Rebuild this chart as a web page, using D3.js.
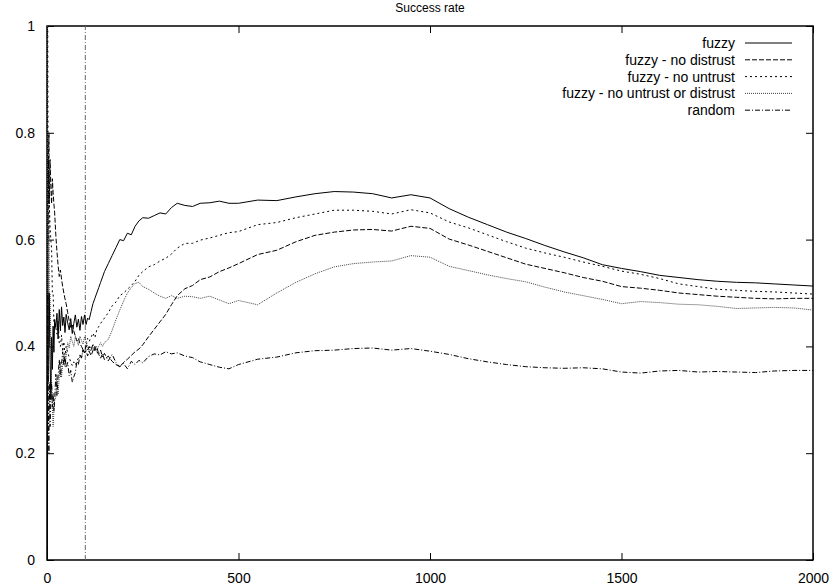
<!DOCTYPE html>
<html>
<head>
<meta charset="utf-8">
<script src="https://cdn.jsdelivr.net/npm/d3@7"></script>
<style>
  body { margin: 0; background: #fff; }
  svg { font-family: "Liberation Sans", Arial, sans-serif; }
</style>
</head>
<body>
<svg id="chart" width="835" height="586"></svg>
<script>
// time steps shared by all series
const steps = [1,2,3,4,5,6,8,10,12,14,16,18,20,23,26,29,32,35,38,41,44,47,50,54,58,62,66,70,74,78,82,86,90,94,98,
  102,106,110,115,120,125,130,135,140,145,150,160,170,180,190,200,210,220,230,240,250,265,280,295,310,325,340,360,380,400,425,450,475,500,
  550,600,650,700,750,800,850,900,950,1000,1050,1100,1150,1200,1250,1300,1350,1400,1450,1500,1550,1600,1650,1700,1750,1800,1850,1900,1950,2000];

const fuzzy = [0,0.5,0.333,0.5,0.4,0.5,0.375,0.3,0.417,0.357,0.438,0.389,0.45,0.435,0.462,0.414,0.469,0.429,0.474,0.439,0.455,0.426,0.46,0.444,0.431,0.452,0.424,0.443,0.459,0.436,0.451,0.43,0.456,0.441,0.459,
  0.441,0.453,0.45,0.465,0.48,0.49,0.5,0.51,0.52,0.53,0.54,0.555,0.57,0.585,0.6,0.598,0.612,0.609,0.625,0.635,0.641,0.64,0.645,0.65,0.648,0.66,0.668,0.664,0.662,0.668,0.669,0.672,0.668,0.668,
  0.674,0.673,0.68,0.686,0.69,0.689,0.686,0.678,0.684,0.678,0.658,0.642,0.628,0.614,0.602,0.589,0.577,0.566,0.553,0.546,0.54,0.533,0.529,0.525,0.522,0.52,0.519,0.517,0.515,0.513];

const noDistrust = [1,0.5,0.667,0.75,0.8,0.667,0.75,0.7,0.667,0.714,0.688,0.667,0.65,0.609,0.577,0.552,0.531,0.543,0.526,0.512,0.5,0.489,0.48,0.463,0.448,0.435,0.44,0.429,0.419,0.41,0.415,0.405,0.4,0.394,0.388,
  0.392,0.382,0.391,0.383,0.392,0.4,0.39,0.385,0.378,0.386,0.375,0.382,0.372,0.366,0.362,0.37,0.376,0.383,0.39,0.395,0.403,0.418,0.432,0.446,0.46,0.478,0.495,0.508,0.514,0.525,0.53,0.54,0.547,0.555,
  0.572,0.58,0.596,0.608,0.614,0.618,0.619,0.616,0.625,0.621,0.601,0.59,0.578,0.566,0.554,0.546,0.538,0.529,0.522,0.512,0.509,0.505,0.5,0.497,0.494,0.492,0.49,0.489,0.49,0.49];

const noUntrust = [1,1,0.667,0.75,0.6,0.667,0.625,0.6,0.583,0.5,0.5,0.444,0.45,0.435,0.423,0.448,0.406,0.4,0.421,0.39,0.409,0.383,0.4,0.389,0.379,0.371,0.364,0.371,0.365,0.372,0.378,0.384,0.378,0.394,0.388,
  0.402,0.415,0.409,0.417,0.425,0.416,0.431,0.437,0.443,0.448,0.453,0.463,0.476,0.483,0.495,0.5,0.507,0.514,0.522,0.533,0.54,0.549,0.553,0.56,0.565,0.573,0.584,0.593,0.593,0.599,0.603,0.608,0.613,0.615,
  0.628,0.632,0.641,0.648,0.655,0.655,0.653,0.648,0.656,0.65,0.633,0.622,0.609,0.596,0.584,0.575,0.567,0.558,0.55,0.541,0.535,0.527,0.517,0.512,0.507,0.505,0.503,0.502,0.5,0.498];

const noBoth = [1,0.5,0.333,0.5,0.6,0.5,0.5,0.4,0.333,0.286,0.25,0.278,0.3,0.304,0.346,0.31,0.344,0.371,0.342,0.366,0.386,0.362,0.38,0.407,0.397,0.419,0.409,0.4,0.419,0.41,0.402,0.419,0.411,0.404,0.418,
  0.41,0.4,0.391,0.4,0.392,0.4,0.392,0.4,0.407,0.4,0.407,0.413,0.43,0.45,0.468,0.485,0.5,0.51,0.518,0.52,0.512,0.507,0.5,0.494,0.49,0.495,0.49,0.494,0.493,0.49,0.494,0.487,0.48,0.486,
  0.478,0.5,0.52,0.536,0.549,0.555,0.558,0.56,0.57,0.567,0.55,0.542,0.534,0.527,0.521,0.511,0.502,0.495,0.488,0.48,0.484,0.482,0.479,0.478,0.475,0.471,0.472,0.473,0.472,0.468];

const random = [0,0.5,0.333,0.25,0.2,0.333,0.25,0.3,0.333,0.286,0.313,0.278,0.3,0.348,0.308,0.345,0.375,0.343,0.368,0.39,0.364,0.383,0.36,0.37,0.345,0.355,0.333,0.343,0.351,0.372,0.366,0.384,0.378,0.394,0.388,
  0.402,0.392,0.4,0.391,0.405,0.392,0.4,0.385,0.393,0.38,0.387,0.373,0.385,0.37,0.362,0.368,0.358,0.372,0.366,0.374,0.369,0.381,0.386,0.384,0.39,0.386,0.388,0.382,0.379,0.371,0.366,0.361,0.358,0.366,
  0.376,0.38,0.388,0.392,0.393,0.396,0.397,0.393,0.396,0.391,0.385,0.377,0.371,0.366,0.362,0.36,0.359,0.36,0.358,0.352,0.35,0.354,0.355,0.352,0.353,0.352,0.351,0.354,0.355,0.355];

const seriesNames = ["fuzzy", "fuzzy - no distrust", "fuzzy - no untrust", "fuzzy - no untrust or distrust", "random"];
const seriesValues = [fuzzy, noDistrust, noUntrust, noBoth, random];
const seriesDash = [null, "5,2", "2,3", "1,1", "5,2,1,2"];
const seriesColor = ["#000", "#000", "#000", "#444", "#000"];

const xTicks = [0, 500, 1000, 1500, 2000];
const yTicks = [0, 0.2, 0.4, 0.6, 0.8, 1];
const markerStep = 100;

const svg = d3.select("#chart");
const m = {left: 47, right: 22, top: 26, bottom: 26};
const W = 835, H = 586;
const x = d3.scaleLinear().domain([0, 2000]).range([m.left, W - m.right]);
const y = d3.scaleLinear().domain([0, 1]).range([H - m.bottom, m.top]);

// title
svg.append("text").attr("x", (m.left + W - m.right) / 2).attr("y", 12)
  .attr("text-anchor", "middle").attr("font-size", 12).text("Success rate");

// axes with inward ticks, mirrored
const tk = 7;
svg.append("g").attr("transform", `translate(0,${y(0)})`)
  .call(d3.axisBottom(x).tickValues(xTicks).tickSize(-tk).tickPadding(tk + 6).tickFormat(d3.format("d")));
svg.append("g").attr("transform", `translate(0,${y(1)})`)
  .call(d3.axisTop(x).tickValues(xTicks).tickSize(-tk).tickFormat(""));
svg.append("g").attr("transform", `translate(${x(0)},0)`)
  .call(d3.axisLeft(y).tickValues(yTicks).tickSize(-tk).tickPadding(tk + 5).tickFormat(d => d));
svg.append("g").attr("transform", `translate(${x(2000)},0)`)
  .call(d3.axisRight(y).tickValues(yTicks).tickSize(-tk).tickFormat(""));
svg.selectAll(".domain").remove();
svg.selectAll(".tick line").attr("stroke", "#000");
svg.selectAll(".tick text").attr("font-size", 14).attr("fill", "#000")
  .attr("font-family", "'Liberation Sans', Arial, sans-serif");

svg.append("rect").attr("x", x(0)).attr("y", y(1))
  .attr("width", x(2000) - x(0)).attr("height", y(0) - y(1))
  .attr("fill", "none").attr("stroke", "#000").attr("stroke-width", 1.5);

// marker line at step 100
svg.append("line").attr("x1", x(markerStep)).attr("x2", x(markerStep))
  .attr("y1", y(0)).attr("y2", y(1))
  .attr("stroke", "#666").attr("stroke-dasharray", "5,2,1,2");

const line = d3.line().x((d, i) => x(steps[i])).y(d => y(d));

const clip = svg.append("clipPath").attr("id", "clip").append("rect")
  .attr("x", x(0)).attr("y", y(1)).attr("width", x(2000) - x(0)).attr("height", y(0) - y(1));

svg.append("g").attr("clip-path", "url(#clip)")
  .selectAll("path").data(seriesValues).join("path")
  .attr("d", d => line(d))
  .attr("fill", "none")
  .attr("stroke", (d, i) => seriesColor[i])
  .attr("stroke-width", 1)
  .attr("stroke-dasharray", (d, i) => seriesDash[i]);

// legend
const leg = svg.append("g");
seriesNames.forEach((name, i) => {
  const ly = 43 + i * 16.8;
  leg.append("text").attr("x", 735).attr("y", ly).attr("dy", "0.35em")
    .attr("text-anchor", "end").attr("font-size", 14).text(name);
  leg.append("line").attr("x1", 745).attr("x2", 792).attr("y1", ly).attr("y2", ly)
    .attr("stroke", seriesColor[i]).attr("stroke-width", 1)
    .attr("stroke-dasharray", seriesDash[i]);
});
</script>
</body>
</html>
